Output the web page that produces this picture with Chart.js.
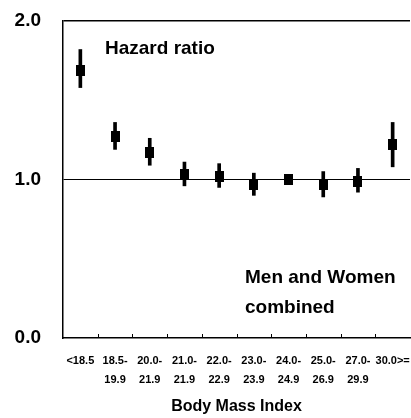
<!DOCTYPE html>
<html>
<head>
<meta charset="utf-8">
<script src="https://cdn.jsdelivr.net/npm/chart.js@4.4.1/dist/chart.umd.min.js"></script>
<style>
  html, body { margin: 0; padding: 0; background: #fff; }
  #wrap { width: 411px; height: 418px; }
</style>
</head>
<body>
<div id="wrap"><canvas id="chart"></canvas></div>
<script>
// BMI groups (two-line labels)
const bmiGroups = [
  ['<18.5'], ['18.5-', '19.9'], ['20.0-', '21.9'], ['21.0-', '21.9'], ['22.0-', '22.9'],
  ['23.0-', '23.9'], ['24.0-', '24.9'], ['25.0-', '26.9'], ['27.0-', '29.9'], ['30.0>=']
];
// hazard ratio and 95% CI per group (24.0-24.9 is the reference)
const hazardRatio = [1.69, 1.27, 1.17, 1.03, 1.02, 0.97, 1.00, 0.97, 0.99, 1.22];
const ciLower = [1.58, 1.19, 1.09, 0.96, 0.95, 0.90, null, 0.89, 0.92, 1.08];
const ciUpper = [1.82, 1.36, 1.26, 1.11, 1.10, 1.04, null, 1.05, 1.07, 1.36];
const yTicks = [0, 1, 2];

const FONT = "'Liberation Sans', Arial, Helvetica, sans-serif";

// filled rectangle used as the point marker
const marker = document.createElement('canvas');
marker.width = 9;
marker.height = 11;
const mctx = marker.getContext('2d');
mctx.fillStyle = '#000';
mctx.fillRect(0, 0, 9, 11);

const ciBars = ciLower.map((lo, i) => lo === null ? null : [lo, ciUpper[i]]);

// small upward ticks between groups + the two text notes
const extras = {
  id: 'extras',
  afterDraw(chart) {
    const ctx = chart.ctx;
    const x = chart.scales.x;
    const area = chart.chartArea;
    ctx.save();
    ctx.strokeStyle = '#000';
    ctx.lineWidth = 1;
    for (let i = 1; i < bmiGroups.length; i++) {
      const px = Math.round((x.getPixelForValue(i - 1) + x.getPixelForValue(i)) / 2) + 0.5;
      ctx.beginPath();
      ctx.moveTo(px, area.bottom);
      ctx.lineTo(px, area.bottom - 4);
      ctx.stroke();
    }
    ctx.fillStyle = '#000';
    ctx.textBaseline = 'alphabetic';
    ctx.textAlign = 'left';
    ctx.font = 'bold 19px ' + FONT;
    ctx.fillText('Hazard ratio', 105, 54);
    ctx.fillText('Men and Women', 245, 283);
    ctx.fillText('combined', 245, 313);
    ctx.restore();
  }
};

new Chart(document.getElementById('chart'), {
  data: {
    labels: bmiGroups,
    datasets: [{
      type: 'line',
      data: hazardRatio,
      showLine: false,
      pointStyle: marker,
      pointRadius: 6,
      pointHoverRadius: 6,
      order: 0
    }, {
      type: 'bar',
      data: ciBars,
      backgroundColor: '#000',
      barThickness: 3,
      borderWidth: 0,
      order: 1
    }]
  },
  options: {
    responsive: true,
    maintainAspectRatio: false,
    animation: false,
    layout: { autoPadding: false, padding: { top: 21, right: 1, left: 0, bottom: 0 } },
    plugins: {
      legend: { display: false },
      tooltip: { enabled: false }
    },
    scales: {
      x: {
        offset: true,
        grid: { display: false },
        border: { display: true, color: '#000', width: 1.5 },
        ticks: {
          color: '#000',
          font: { family: FONT, size: 11, weight: 'bold', lineHeight: 1.7 },
          padding: 6,
          maxRotation: 0,
          autoSkip: false
        },
        title: {
          display: true,
          text: 'Body Mass Index',
          color: '#000',
          font: { family: FONT, size: 16, weight: 'bold' },
          padding: { top: 0, bottom: 2 }
        },
        afterFit(scale) {
          scale.height = 80;
          scale.paddingLeft = 0;
          scale.paddingRight = 0;
        }
      },
      y: {
        min: 0,
        max: 2,
        afterBuildTicks(scale) { scale.ticks = yTicks.map(v => ({ value: v })); },
        grid: {
          drawTicks: false,
          color: ctx => ctx.tick && ctx.tick.value > 0 ? '#000' : 'rgba(0,0,0,0)',
          lineWidth: ctx => ctx.tick && ctx.tick.value === 2 ? 1.5 : 1
        },
        border: { display: true, color: '#000', width: 1.5 },
        ticks: {
          color: '#000',
          font: { family: FONT, size: 19, weight: 'bold' },
          padding: 22,
          callback: v => v.toFixed(1)
        },
        afterFit(scale) {
          scale.width = 63;
          scale.paddingTop = 0;
          scale.paddingBottom = 0;
        }
      }
    }
  },
  plugins: [extras]
});
</script>
</body>
</html>
